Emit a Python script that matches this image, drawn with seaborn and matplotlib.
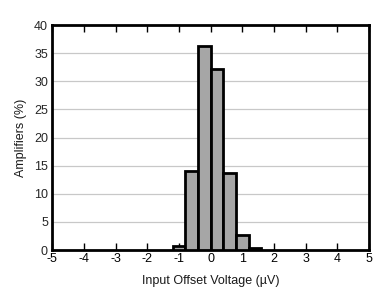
import matplotlib
matplotlib.use("Agg")
import matplotlib.pyplot as plt
import seaborn as sns
import numpy as np

bin_edges = [-1.2, -0.8, -0.4, 0.0, 0.4, 0.8, 1.2, 1.6]
bin_centers = [-1.0, -0.6, -0.2, 0.2, 0.6, 1.0, 1.4]
percent = [0.75, 14.1, 36.3, 32.2, 13.7, 2.7, 0.35]
x_ticks = [-5, -4, -3, -2, -1, 0, 1, 2, 3, 4, 5]
y_ticks = [0, 5, 10, 15, 20, 25, 30, 35, 40]

sns.set_style("white")
plt.rcParams['font.family'] = ['Liberation Sans', 'DejaVu Sans']
plt.rcParams['axes.unicode_minus'] = False

fig = plt.figure(figsize=(3.89, 2.98), dpi=100)
ax = fig.add_axes([0.134, 0.161, 0.815, 0.755])
sns.histplot(x=bin_centers, weights=percent, bins=bin_edges, ax=ax,
             color="#a6a6a6", edgecolor="black", linewidth=2, alpha=1, zorder=3)
ax.set_xlim(-5, 5)
ax.set_ylim(0, 40)
ax.set_xticks(x_ticks)
ax.set_yticks(y_ticks)
ax.yaxis.grid(True, color="#c8c8c8", linewidth=0.9, zorder=0)
ax.set_axisbelow(True)
for s in ax.spines.values():
    s.set_visible(True)
    s.set_color("black")
    s.set_linewidth(2)
ax.tick_params(axis="x", direction="in", length=5, width=1, top=True, bottom=True,
               labelsize=9, colors="black", pad=2.5)
ax.tick_params(axis="y", length=0, labelsize=9, pad=3)
ax.set_xlabel("Input Offset Voltage (µV)", fontsize=9, color="#1a1a1a", labelpad=7)
ax.set_ylabel("Amplifiers (%)", fontsize=9, color="#1a1a1a", labelpad=5)
fig.savefig("out.png", dpi=100)
